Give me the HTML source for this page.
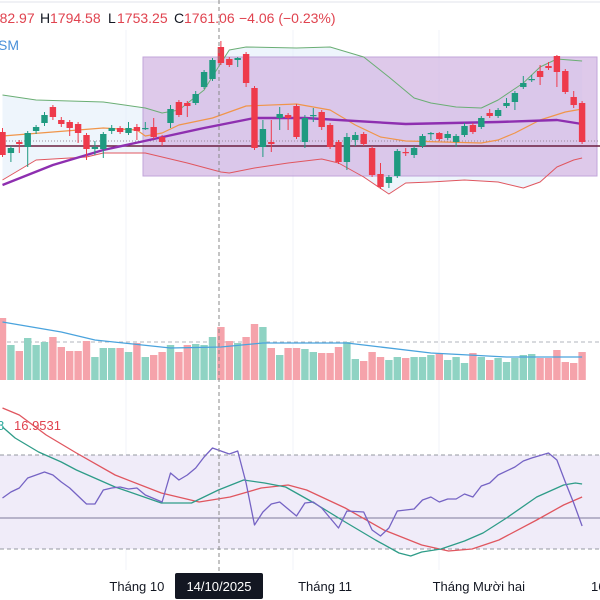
<!DOCTYPE html>
<html><head><meta charset="utf-8">
<style>
html,body{margin:0;padding:0;background:#fff;width:600px;height:600px;overflow:hidden}
svg{display:block;font-family:"Liberation Sans",sans-serif}
</style></head>
<body>
<svg id="chart" width="600" height="600" viewBox="0 0 600 600" xmlns="http://www.w3.org/2000/svg">
  <rect x="0" y="0" width="600" height="600" fill="#fff"/>
  <line x1="0" y1="2" x2="600" y2="2" stroke="#e0e3eb"/>
  <g id="grid"></g>
  <g id="price"></g>
  <g id="vol"></g>
  <g id="rsi"></g>
  <line x1="219" y1="0" x2="219" y2="572" stroke="#888" stroke-dasharray="4,3"/>
  <g font-size="14">
    <text x="-16" y="23" fill="#e0434f">1782.97</text>
    <text x="40" y="23" fill="#131722">H</text>
    <text x="50" y="23" fill="#e0434f">1794.58</text>
    <text x="108" y="23" fill="#131722">L</text>
    <text x="117" y="23" fill="#e0434f">1753.25</text>
    <text x="174" y="23" fill="#131722">C</text>
    <text x="184" y="23" fill="#e0434f">1761.06</text>
    <text x="239" y="23" fill="#e0434f">−4.06 (−0.23%)</text>
    <text x="-2" y="50" fill="#4a90d9">SM</text>
  </g>
  <g font-size="13">
    <text x="-3" y="430" fill="#26a69a">8</text>
    <text x="14" y="430" fill="#e0434f">16.9531</text>
  </g>
  <g id="axis" font-size="13" fill="#131722"></g>
</svg>
<script>
// ---- data (price values: higher = up) ----
const candleOpen  = [68,47,58,53,69,77,93,80,78,76,65,51,51,69,72,67,73,71,73,63,77,98,97,97,113,121,153,141,140,146,112,53,58,82,85,94,58,84,88,75,58,38,60,66,52,26,17,24,48,45,54,66,67,62,58,65,75,73,87,84,94,98,113,120,129,134,144,129,103,97];
const candleClose = [45,52,56,67,73,85,83,76,72,67,51,53,66,72,68,72,69,72,63,58,91,85,94,106,128,140,137,135,142,117,52,71,56,86,82,63,82,85,73,53,38,63,65,56,25,13,23,49,47,52,64,67,61,66,64,74,68,82,84,90,97,107,117,121,123,132,128,108,95,58];
const candleHigh  = [72,54,60,69,75,88,95,83,80,78,67,59,68,75,74,78,76,78,82,65,95,100,99,109,130,142,159,143,143,148,114,80,80,93,87,96,85,92,90,77,60,67,68,68,54,37,25,51,52,54,66,68,68,69,66,77,77,84,91,92,102,109,124,125,135,138,145,131,109,99];
const candleLow   = [43,38,47,33,66,74,80,73,64,57,40,45,42,66,66,65,60,70,61,54,72,83,83,95,111,119,135,133,133,113,50,43,48,70,70,61,52,78,70,51,36,30,54,54,23,11,12,22,44,42,52,60,59,60,53,63,66,71,82,82,92,90,111,118,115,130,113,106,92,56];
const volume = [62,35,29,42,35,38,43,33,29,29,39,23,32,32,32,28,37,23,25,28,35,28,35,36,35,43,53,39,37,43,56,53,32,25,32,32,31,28,27,27,33,38,21,19,28,23,20,23,22,23,23,25,26,20,23,17,27,23,20,22,18,22,25,26,22,22,30,18,17,28];
const volMaIdx = [0,7,11,20,26,31,41,45,51,60,69];
const volMaVal = [58,48,40,32,33,37,37,33,27,23,23];
const upperIdx = [0,4,12,17,19,21,24,26,27,29,35,39,43,46,49,51,54,57,59,62,64,66,69];
const upperVal = [105,100,98,92,87,90,110,137,150,153,152,153,143,123,102,97,93,92,100,117,133,141,139];
const basisIdx = [0,12,16,17,19,21,25,29,35,39,42,45,48,57,59,61,64,67,69];
const basisVal = [64,72,70,64,67,75,82,94,96,90,75,63,59,57,60,67,80,88,91];
const lowerIdx = [0,4,10,12,17,18,22,26,27,30,34,35,38,40,43,46,48,51,55,59,62,64,66,68,69];
const lowerVal = [20,40,43,47,47,45,37,28,27,32,37,38,41,37,23,6,17,18,20,18,12,18,33,40,42];
const maIdx = [0,6,12,18,24,30,36,48,59,66,69];
const maVal = [15,35,50,61,72,82,82,76,78,80,76];
const rsiIdx = [0,1,2,3,5,6,7,8,10,11,12,13,14,15,16,17,19,20,21,22,23,24,25,26,27,28,29,30,31,32,33,35,36,37,38,39,40,41,43,44,45,46,47,49,50,51,52,53,54,55,56,57,58,59,61,62,63,65,66,67,68,69];
const rsiVal = [102,108,112,122,128,125,118,112,96,96,110,112,113,111,112,105,98,127,120,125,132,143,152,149,146,149,117,75,88,96,98,84,97,98,92,82,72,89,88,70,64,72,89,91,100,103,98,101,101,106,103,114,117,125,133,139,142,147,140,118,97,74];
const rsiMaIdx = [0,1.5,4.3,7,8.8,13.4,18.9,22.5,25.7,28.7,31.2,33.7,37.1,40.8,44.4,47.2,48.6,49.9,52.2,55,57.2,60,63.6,66.8,68.2,69];
const rsiMaVal = [173,162,148,138,130,113,97,97,110,120,117,113,97,78,60,47,44,48,51,59,67,82,103,115,117,116];
const sigIdx = [0,2,5.2,8.8,13.4,18.9,23.4,27.1,30.8,34,36.2,40.8,45.4,49.9,53.1,55.9,59.1,63.6,66.8,69];
const sigVal = [192,185,165,147,125,107,98,103,112,115,110,92,70,55,49,51,60,80,95,103];
const timeLabels = ["Tháng 10","Tháng 11","Tháng Mười hai"];
const timeLabelIdx = [16,38.4,56.7];

// ---- axes ----
const xAt = i => 2.5 + 8.4 * i;
const yPrice = v => 200 - v;
const yVol = v => 380 - v;
const yRsi = v => 600 - v;
const NS = "http://www.w3.org/2000/svg";
function mk(tag, attrs, parent){const e=document.createElementNS(NS,tag);for(const k in attrs)e.setAttribute(k,attrs[k]);parent.appendChild(e);return e;}
const grid=document.getElementById('grid'), price=document.getElementById('price'), vol=document.getElementById('vol'), rsi=document.getElementById('rsi'), axis=document.getElementById('axis');
function pts(idx,val,ys){return idx.map((d,k)=>xAt(d).toFixed(1)+','+ys(val[k]).toFixed(1)).join(' ');}

// grid
[126,293,439].forEach(x=>{
  const l=mk('line',{x1:x,y1:30,x2:x,y2:570,stroke:'#f0f3fa'},grid);
  
  
});

// band fill
const fillPts = pts(upperIdx,upperVal,yPrice)+' '+lowerIdx.slice().reverse().map((d,k)=>{const v=lowerVal[lowerVal.length-1-k];return xAt(d).toFixed(1)+','+yPrice(v).toFixed(1);}).join(' ');
const bf=mk('polygon',{points:fillPts,fill:'#e3eefa',opacity:'0.6'},price);



// rectangle drawing
const rect=mk('rect',{x:143,y:57,width:454,height:119,fill:'#d6bce6',opacity:'0.8',stroke:'#b48fd0'},price);



// price lines
const dl=mk('line',{x1:0,y1:141,x2:600,y2:141,stroke:'#9a8a9a','stroke-dasharray':'1,2'},price);


const hl=mk('line',{x1:0,y1:146,x2:600,y2:146,stroke:'#6b1f3f','stroke-width':1.6},price);



// bands
[[upperIdx,upperVal,'#6aae74',1,'bollinger-upper'],[lowerIdx,lowerVal,'#e0565f',1,'bollinger-lower'],[basisIdx,basisVal,'#f0954a',1.2,'bollinger-basis'],[maIdx,maVal,'#8e2fb0',2.4,'moving-average']].forEach(s=>{
  const p=mk('polyline',{points:pts(s[0],s[1],yPrice),fill:'none',stroke:s[2],'stroke-width':s[3],'stroke-linejoin':'round'},price);
  
  
});

// candles
candleOpen.forEach((o,i)=>{
  const c=candleClose[i], up=c>=o, col=up?'#1f9a80':'#ee3a4b', x=xAt(i);
  const w=mk('line',{x1:x,y1:yPrice(candleHigh[i]),x2:x,y2:yPrice(candleLow[i]),stroke:col,'stroke-width':1},price);
  
  
  const top=yPrice(Math.max(o,c)), h=Math.max(1.2,Math.abs(yPrice(o)-yPrice(c)));
  const b=mk('rect',{x:x-3.2,y:top,width:6.4,height:h,fill:col},price);
  
  
});

// volume
const vdl=mk('line',{x1:0,y1:342,x2:600,y2:342,stroke:'#b2b5be','stroke-dasharray':'4,3'},vol);


volume.forEach((v,i)=>{
  const up=candleClose[i]>=candleOpen[i];
  const r=mk('rect',{x:xAt(i)-3.7,y:yVol(v),width:7.4,height:v,fill:up?'#8fd3c3':'#f5a3ab'},vol);
  
  
});
const vma=mk('polyline',{points:pts(volMaIdx,volMaVal,yVol),fill:'none',stroke:'#4aa3dd','stroke-width':1.3},vol);



// rsi pane
const rb=mk('rect',{x:0,y:yRsi(145),width:600,height:94,fill:'#f0ecf9'},rsi);


[145,51].forEach(v=>{
  const l=mk('line',{x1:0,y1:yRsi(v),x2:600,y2:yRsi(v),stroke:'#9598a1','stroke-dasharray':'4,3'},rsi);
  
  
});
const ml=mk('line',{x1:0,y1:yRsi(82),x2:600,y2:yRsi(82),stroke:'#7e7a9c'},rsi);


[[sigIdx,sigVal,'#e0565f','rsi-signal-line'],[rsiMaIdx,rsiMaVal,'#2e9c88','rsi-ma-line'],[rsiIdx,rsiVal,'#7563c4','rsi-line']].forEach(s=>{
  const p=mk('polyline',{points:pts(s[0],s[1],yRsi),fill:'none',stroke:s[2],'stroke-width':1.3,'stroke-linejoin':'round'},rsi);
  
  
});

// time axis
timeLabels.forEach((t,k)=>{
  const e=mk('text',{x:xAt(timeLabelIdx[k]),y:591,'text-anchor':'middle'},axis);
  e.textContent=t;
  
  
});
const tb=mk('rect',{x:175,y:573,width:88,height:26,rx:2,fill:'#131722'},axis);


const tt=mk('text',{x:219,y:591,'text-anchor':'middle',fill:'#fff'},axis);
tt.textContent='14/10/2025';


const t16=mk('text',{x:591,y:591},axis);
t16.textContent='16';


</script>
</body></html>
